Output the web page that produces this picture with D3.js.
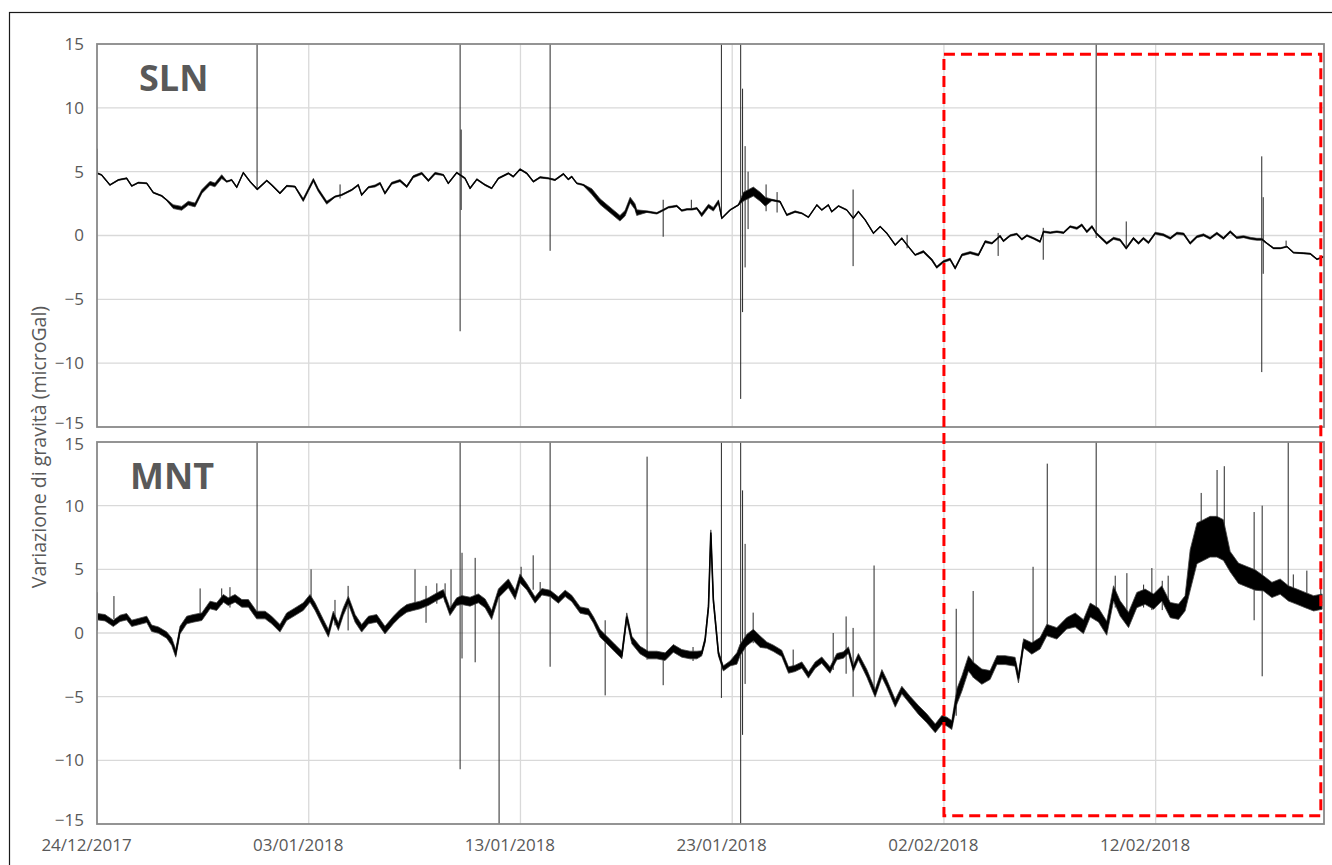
<!DOCTYPE html>
<html>
<head>
<meta charset="utf-8">
<script src="https://cdn.jsdelivr.net/npm/d3@7"></script>
<style>
  body { margin: 0; background: #fff; }
  text { font-family: "Open Sans", sans-serif; }
</style>
</head>
<body>
<svg id="chart" width="1332" height="865"></svg>
<script>
// Gravity variation at two stations (SLN, MNT), 24/12/2017 - 19/02/2018
// times are days since 24/12/2017 00:00, values in microGal

const xTickLabels = ["24/12/2017", "03/01/2018", "13/01/2018", "23/01/2018", "02/02/2018", "12/02/2018"];
const yTickValues = [-15, -10, -5, 0, 5, 10, 15];
const lastDay = 57.95;

const slnTrace = [
  [0.03,4.87],[0.22,4.74],[0.61,3.96],[1.01,4.35],[1.40,4.48],[1.64,3.88],[1.95,4.14],[2.35,4.09],[2.66,3.36],[3.06,3.10],
  [3.29,2.78],[3.60,2.26],[4.00,2.13],[4.31,2.53],[4.63,2.39],[4.95,3.44],[5.34,4.09],[5.57,3.96],[5.89,4.61],[6.13,4.22],
  [6.36,4.35],[6.60,3.78],[6.91,4.92],[7.23,4.22],[7.57,3.62],[8.02,4.30],[8.25,3.96],[8.64,3.31],[8.96,3.88],[9.35,3.83],
  [9.74,2.78],[10.22,4.35],[10.45,3.57],[10.85,2.57],[11.24,3.04],[11.56,3.18],[12.03,3.57],[12.34,3.96],[12.50,3.18],[12.82,3.78],
  [13.13,3.88],[13.37,4.09],[13.60,3.31],[13.92,4.09],[14.31,4.30],[14.63,3.83],[14.94,4.61],[15.34,4.87],[15.65,4.30],[15.97,4.87],
  [16.36,4.74],[16.59,4.09],[16.99,4.92],[17.38,4.48],[17.62,3.70],[17.94,4.40],[18.33,3.96],[18.64,3.70],[18.96,4.48],[19.43,4.87],
  [19.66,4.61],[19.98,5.19],[20.30,4.87],[20.61,4.22],[20.93,4.56],[21.32,4.48],[21.63,4.35],[22.03,4.82],[22.26,4.40],[22.42,4.61],
  [22.66,4.09],[22.97,3.96],[23.37,3.44],[23.76,2.65],[24.23,2.00],[24.70,1.35],[24.94,1.74],[25.18,2.78],[25.41,2.26],[25.49,1.79],
  [25.97,1.87],[26.44,1.74],[26.75,2.00],[26.99,2.21],[27.38,2.31],[27.62,1.95],[27.86,2.05],[28.09,2.05],[28.33,2.13],[28.56,1.61],
  [28.88,2.31],[29.11,2.05],[29.35,2.65],[29.51,1.35],[29.90,2.00],[30.29,2.39],[30.53,3.04],[31.00,3.44],[31.32,3.04],[31.56,2.65],
  [31.87,2.78],[32.26,2.65],[32.58,1.61],[32.97,1.87],[33.29,1.74],[33.60,1.43],[34.00,2.39],[34.23,2.00],[34.54,2.39],[34.70,1.87],
  [35.02,2.31],[35.41,2.00],[35.72,1.35],[35.96,1.87],[36.28,1.22],[36.67,0.18],[36.99,0.70],[37.30,0.18],[37.70,-0.74],[38.01,-0.22],
  [38.32,-0.87],[38.64,-1.52],[39.03,-1.26],[39.43,-1.91],[39.66,-2.49],[39.98,-2.04],[40.29,-1.86],[40.53,-2.56],[40.85,-1.52],[41.24,-1.34],
  [41.63,-1.52],[41.95,-0.48],[42.27,-0.61],[42.65,-0.04],[42.81,-0.43],[43.13,0.00],[43.44,0.12],[43.68,-0.30],[43.92,0.00],[44.23,-0.22],
  [44.54,-0.48],[44.70,0.30],[45.02,0.22],[45.33,0.30],[45.65,0.22],[45.96,0.70],[46.28,0.56],[46.51,0.83],[46.75,0.30],[46.99,0.70],
  [47.19,0.18],[47.38,-0.12],[47.69,-0.61],[48.01,-0.22],[48.32,-0.35],[48.61,-1.00],[48.95,-0.22],[49.19,-0.61],[49.42,-0.22],[49.66,-0.56],
  [49.98,0.18],[50.37,0.05],[50.69,-0.22],[51.00,0.18],[51.32,0.12],[51.63,-0.61],[51.95,-0.09],[52.26,0.05],[52.57,-0.22],[52.89,0.18],
  [53.20,-0.22],[53.52,0.30],[53.83,-0.17],[54.15,-0.09],[54.46,-0.22],[54.78,-0.30],[55.02,-0.30],[55.25,-0.61],[55.57,-1.00],[55.88,-1.00],
  [56.20,-0.87],[56.51,-1.34],[56.98,-1.39],[57.30,-1.43],[57.62,-1.86],[57.93,-1.66]
];

const mntTrace = [
  [0.03,1.28],[0.38,1.20],[0.77,0.76],[1.09,1.15],[1.40,1.28],[1.64,0.76],[1.95,0.89],[2.35,1.07],[2.58,0.37],[2.90,0.23],
  [3.29,-0.16],[3.53,-0.69],[3.72,-1.60],[3.92,0.23],[4.24,1.02],[4.55,1.15],[4.95,1.28],[5.34,2.20],[5.65,2.07],[5.97,2.72],
  [6.20,2.46],[6.52,2.72],[6.84,2.33],[7.15,2.33],[7.54,1.41],[7.94,1.41],[8.25,1.02],[8.64,0.37],[8.96,1.28],[9.35,1.67],
  [9.74,2.07],[10.06,2.72],[10.30,2.07],[10.69,0.76],[10.93,-0.03],[11.16,1.41],[11.40,0.50],[11.63,1.67],[11.87,2.59],[12.19,1.15],
  [12.50,0.37],[12.82,1.02],[13.21,1.15],[13.60,0.23],[14.00,1.02],[14.31,1.54],[14.63,1.93],[14.94,2.07],[15.26,2.20],[15.65,2.46],
  [16.05,2.85],[16.36,3.11],[16.67,1.67],[16.99,2.46],[17.23,2.59],[17.62,2.46],[18.01,2.72],[18.33,2.33],[18.64,1.41],[18.96,3.11],
  [19.43,3.90],[19.75,2.98],[19.98,4.29],[20.30,3.63],[20.69,2.59],[21.01,3.24],[21.40,3.11],[21.79,2.59],[22.11,3.11],[22.42,2.72],
  [22.82,1.80],[23.21,1.67],[23.45,1.02],[23.76,-0.03],[24.08,-0.55],[24.47,-1.21],[24.79,-1.73],[25.02,1.28],[25.26,-0.55],[25.65,-1.34],
  [26.04,-1.73],[26.44,-1.73],[26.83,-1.86],[27.22,-1.21],[27.62,-1.60],[28.01,-1.73],[28.33,-1.73],[28.56,-1.60],[28.72,-0.55],[28.88,2.07],
  [28.99,7.90],[29.11,2.59],[29.35,-1.60],[29.58,-2.78],[29.90,-2.39],[30.22,-2.00],[30.37,-1.34],[30.69,-0.55],[31.00,-0.16],[31.32,-0.68],
  [31.63,-0.95],[31.95,-1.21],[32.34,-1.60],[32.66,-2.91],[32.97,-2.78],[33.29,-2.52],[33.60,-3.30],[33.92,-2.52],[34.23,-2.13],[34.62,-2.91],
  [34.94,-1.86],[35.25,-1.73],[35.49,-1.34],[35.72,-2.78],[35.96,-1.86],[36.36,-3.17],[36.75,-4.74],[37.07,-3.17],[37.30,-3.96],[37.70,-5.53],
  [38.01,-4.48],[38.40,-5.27],[38.80,-6.05],[39.19,-6.70],[39.59,-7.49],[39.90,-6.83],[40.14,-6.96],[40.37,-7.23],[40.61,-5.00],[40.85,-3.96],
  [41.16,-2.39],[41.40,-2.91],[41.79,-3.43],[42.18,-3.30],[42.50,-2.13],[42.89,-2.13],[43.36,-2.26],[43.52,-3.57],[43.76,-0.81],[44.15,-1.21],
  [44.54,-0.81],[44.86,0.23],[45.33,-0.03],[45.80,0.76],[46.20,1.02],[46.59,0.50],[46.91,1.80],[47.30,1.41],[47.69,0.37],[48.01,3.11],
  [48.32,1.93],[48.72,1.02],[49.11,2.59],[49.50,2.85],[49.90,2.46],[50.29,3.11],[50.69,1.80],[51.08,1.67],[51.39,2.33],[51.63,4.94],
  [51.95,7.04],[52.26,7.30],[52.57,7.56],[52.89,7.56],[53.20,7.30],[53.52,5.60],[53.91,4.69],[54.31,4.42],[54.70,4.16],[55.09,3.90],
  [55.49,3.38],[55.88,3.64],[56.27,3.11],[56.67,2.85],[57.06,2.59],[57.46,2.33],[57.86,2.46]
];

// half-width of the noise band, [from day, microGal]
const slnNoise = [[0,0.04],[3.5,0.15],[6,0.05],[9.5,0.12],[11,0.05],[13,0.08],[16,0.05],[23,0.22],[25.8,0.06],
  [28.5,0.14],[29.4,0.04],[30.4,0.35],[31.8,0.06],[33,0.04],[39,0.08],[42,0.06],[46,0.08],[49,0.08],[55.2,0.04]];
const mntNoise = [[0,0.25],[3.5,0.3],[5,0.3],[17,0.35],[20,0.25],[23.5,0.3],[28.5,0.2],[30,0.45],[31.5,0.25],
  [36,0.3],[38.5,0.35],[40.5,0.6],[42,0.35],[44,0.45],[46,0.55],[48,0.6],[51.6,1.6],[53.5,0.8],[55,0.6]];

// spikes: [day, low, high]
const slnSpikes = [
  [0.02,4.8,6.8],[7.56,3.6,15],[11.48,2.9,4.0],[17.15,-7.5,15],[17.2,2.0,8.3],[21.40,-1.2,15],[26.74,-0.1,2.8],
  [28.07,2.0,2.8],[29.49,1.4,15],[30.40,-12.8,15],[30.49,-6,11.5],[30.61,-2.5,7],[30.75,0.5,5],[31.60,1.9,4.0],
  [32.12,1.8,3.4],[35.71,-2.4,3.6],[38.26,-1.0,0.05],[42.56,-1.6,0.2],[44.69,-1.9,0.6],[47.19,-0.2,15],
  [48.61,-1.0,1.1],[55.01,-10.7,6.2],[55.08,-3,3],[56.16,-0.9,-0.4]
];
const mntSpikes = [
  [0.02,0.2,3.2],[0.80,1.1,2.9],[4.87,1.3,3.5],[5.89,2.2,3.5],[6.28,2.0,3.6],[7.56,1.4,15],[10.11,2.7,5.0],
  [11.24,0.6,2.6],[11.86,0.2,3.7],[15.02,2.2,5.0],[15.54,0.8,3.7],[16.05,2.3,3.9],[16.44,2.4,3.9],[16.72,2.0,5.0],
  [17.15,-10.7,15],[17.24,-2,6.3],[17.86,-2.3,5.9],[18.99,-15,3.4],[20.03,4.2,5.2],[20.60,3.4,6.1],[20.93,2.8,4.0],
  [21.40,-2.65,15],[24.00,-4.9,1.0],[25.98,-2.1,13.85],[26.74,-4.1,-1.5],[28.15,-2.2,-1.1],[29.49,-5.1,15],
  [30.40,-15,15],[30.49,-8,11.2],[30.61,-4,7],[30.99,-0.8,1.6],[32.88,-2.8,-1.3],[34.77,-2.9,0],[35.38,-3.2,1.3],
  [35.71,-5.0,0.4],[36.70,-4.7,5.3],[40.58,-6.5,1.9],[41.38,-3.5,3.3],[44.21,-1.1,5.2],[44.88,0,13.3],[47.19,1,15],
  [48.09,2.0,4.5],[48.64,1.0,4.7],[49.43,2,3.8],[49.82,1.8,5.1],[50.31,1.8,4.1],[50.59,1.9,4.5],[52.15,6.5,11.0],
  [52.90,6.5,12.8],[53.24,6,13.1],[54.65,1.0,9.5],[55.03,-3.4,10.0],[56.26,3.5,15],[56.50,2.7,4.6],[57.14,2.0,4.9],
  [57.80,2.0,3.8]
];

// highlighted window (dashed box): from day, to day, top value in SLN, bottom value in MNT
const boxWindow = [40, 57.8];
const boxTop = 14.2, boxBottom = -14.35;

// ---------------------------------------------------------------
const svg = d3.select("#chart");
const W = +svg.attr("width"), H = +svg.attr("height");
const pL = 97, pR = 1324;
const t0 = new Date(2017, 11, 24);
const toDate = d => new Date(t0.getTime() + d * 864e5);
const parseTick = d3.timeParse("%d/%m/%Y");

const x = d3.scaleTime().domain([t0, toDate(lastDay)]).range([pL, pR]);

const panels = [
  { name: "SLN", trace: slnTrace, noise: slnNoise, spikes: slnSpikes, top: 44, bottom: 427, lx: 139, ly: 91 },
  { name: "MNT", trace: mntTrace, noise: mntNoise, spikes: mntSpikes, top: 442, bottom: 824, lx: 130, ly: 489 }
];

// outer frame
svg.append("rect").attr("x", 9.5).attr("y", 12.5).attr("width", W + 20).attr("height", H + 20)
  .attr("fill", "none").attr("stroke", "#1a1a1a").attr("stroke-width", 1.2);

const gridDates = xTickLabels.slice(1).map(parseTick);

// small nudges so labels meeting at panel edges do not collide
const labelShift = (k, d) => {
  if (k === 0 && d === -15) return "translate(0,-4)";
  if (k === 1 && d === 15) return "translate(0,2)";
  if (k === 1 && d === -15) return "translate(0,-4)";
  return null;
};

panels.forEach((p, k) => {
  const y = d3.scaleLinear().domain([-15, 15]).range([p.bottom, p.top]);
  p.y = y;
  const g = svg.append("g");

  g.append("clipPath").attr("id", "clip" + k).append("rect")
    .attr("x", pL).attr("y", p.top).attr("width", pR - pL).attr("height", p.bottom - p.top);

  // gridlines
  g.append("g").selectAll("line").data(yTickValues.slice(1, -1)).join("line")
    .attr("x1", pL).attr("x2", pR).attr("y1", d => y(d)).attr("y2", d => y(d))
    .attr("stroke", "#d9d9d9").attr("stroke-width", 1.3);
  g.append("g").selectAll("line").data(gridDates).join("line")
    .attr("x1", d => x(d)).attr("x2", d => x(d)).attr("y1", p.top).attr("y2", p.bottom)
    .attr("stroke", "#d9d9d9").attr("stroke-width", 1.3);

  // y tick labels
  const yAxis = d3.axisLeft(y).tickValues(yTickValues).tickSize(0).tickPadding(13);
  const ya = g.append("g").attr("transform", `translate(${pL},0)`).call(yAxis);
  ya.select(".domain").remove();
  ya.selectAll("text").attr("fill", "#595959").style("font-size", "17px")
    .style("font-family", "'Open Sans', sans-serif")
    .attr("transform", d => labelShift(k, d));

  const plot = g.append("g").attr("clip-path", `url(#clip${k})`);

  // spikes
  plot.append("g").selectAll("line").data(p.spikes).join("line")
    .attr("x1", d => x(toDate(d[0]))).attr("x2", d => x(toDate(d[0])))
    .attr("y1", d => y(d[1])).attr("y2", d => y(d[2]))
    .attr("stroke", "#262626").attr("stroke-width", 1);

  // noise band + trace
  const noiseDays = p.noise.map(n => n[0]);
  const spread = t => p.noise[Math.max(0, d3.bisectRight(noiseDays, t) - 1)][1];
  const area = d3.area()
    .x(d => x(toDate(d[0])))
    .y0(d => y(d[1] - spread(d[0])))
    .y1(d => y(d[1] + spread(d[0])));
  plot.append("path").datum(p.trace).attr("d", area)
    .attr("fill", "#000").attr("stroke", "#444").attr("stroke-width", 0.8);

  const line = d3.line().x(d => x(toDate(d[0]))).y(d => y(d[1]));
  plot.append("path").datum(p.trace).attr("d", line)
    .attr("fill", "none").attr("stroke", "#000").attr("stroke-width", k === 0 ? 1.3 : 1.6);

  // panel border
  g.append("rect").attr("x", pL).attr("y", p.top).attr("width", pR - pL).attr("height", p.bottom - p.top)
    .attr("fill", "none").attr("stroke", "#898989").attr("stroke-width", 1.8);

  // station name
  g.append("text").attr("x", p.lx).attr("y", p.ly).text(p.name)
    .attr("fill", "#595959").style("font-size", "36px").style("font-weight", "700");
});

// x axis labels (below lower panel)
const xAxis = d3.axisBottom(x).tickValues(xTickLabels.map(parseTick)).tickSize(0).tickPadding(15)
  .tickFormat(d3.timeFormat("%d/%m/%Y"));
const xa = svg.append("g").attr("transform", `translate(0,${panels[1].bottom})`).call(xAxis);
xa.select(".domain").remove();
xa.selectAll("text").attr("fill", "#595959").attr("dx", -11)
  .style("font-size", "17px").style("font-family", "'Open Sans', sans-serif");

// y axis title
svg.append("text")
  .attr("transform", "translate(46 447) rotate(-90)")
  .attr("text-anchor", "middle").attr("fill", "#595959").style("font-size", "19.5px")
  .text("Variazione di gravità (microGal)");

// dashed highlight box
svg.append("rect")
  .attr("x", x(toDate(boxWindow[0]))).attr("y", panels[0].y(boxTop))
  .attr("width", x(toDate(boxWindow[1])) - x(toDate(boxWindow[0])))
  .attr("height", panels[1].y(boxBottom) - panels[0].y(boxTop))
  .attr("fill", "none").attr("stroke", "#ff0000").attr("stroke-width", 3)
  .attr("stroke-dasharray", "11 6");
</script>
</body>
</html>
